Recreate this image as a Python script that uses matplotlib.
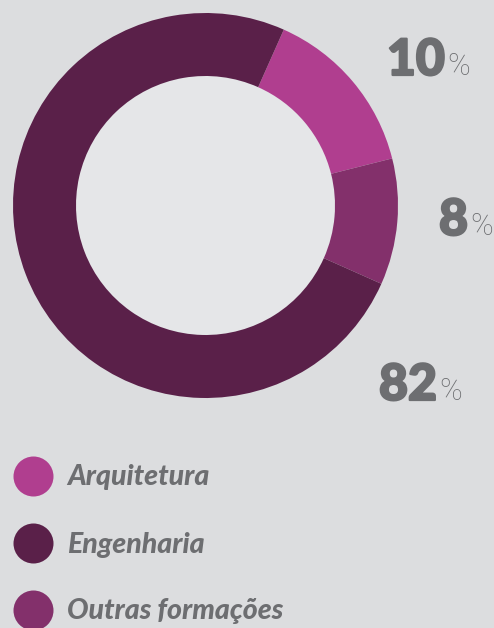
import matplotlib
matplotlib.use("Agg")
import matplotlib.pyplot as plt
import matplotlib.patheffects as pe

# data
categories = ["Arquitetura", "Outras formações", "Engenharia"]
pct_labels = [10, 8, 82]              # numbers printed beside the ring
wedge_share = [14.4, 10.6, 75.0]      # arc sizes as actually drawn
legend_order = ["Arquitetura", "Engenharia", "Outras formações"]

colors = {"Arquitetura": "#b03e8f", "Outras formações": "#83306b", "Engenharia": "#5a2049"}
bg = "#dcdddf"
hole = "#e5e6e8"
grey = "#6d6e71"

W, H = 494, 628
fig = plt.figure(figsize=(W / 100, H / 100), dpi=100, facecolor=bg)
ax = fig.add_axes([0, 0, 1, 1])
ax.set_facecolor(bg)

cx, cy, R, r_in = 205.5, H - 205.5, 192.5, 129.5
wedges, _ = ax.pie(wedge_share, colors=[colors[c] for c in categories],
                   startangle=66, counterclock=False, radius=R, center=(cx, cy),
                   wedgeprops=dict(width=R - r_in, linewidth=0))
ax.add_patch(plt.Circle((cx, cy), r_in, color=hole, zorder=0))

ax.set_xlim(0, W)
ax.set_ylim(0, H)
ax.set_aspect("equal")
ax.axis("off")

# percentage labels: number right-aligned, % sign left-aligned at the anchor
label_anchor = [(445, H - 75), (468, H - 235), (437, H - 400)]
heavy = [pe.withStroke(linewidth=1.6, foreground=grey)]
for val, (x, y) in zip(pct_labels, label_anchor):
    ax.text(x, y, str(val), ha="right", va="baseline", fontsize=36,
            family="Lato", fontweight="black", color=grey, path_effects=heavy)
    ax.text(x + 2, y, "%", ha="left", va="baseline", fontsize=22,
            family="Roboto", fontweight="light", color=grey)

# legend
lx, ly0, step = 32.7, H - 475.5, 67
for i, name in enumerate(legend_order):
    y = ly0 - i * step
    ax.scatter([lx], [y], s=(40 * 0.72) ** 2, color=colors[name], linewidths=0)
    ax.text(67, y - 10, name, ha="left", va="baseline", fontsize=20.5,
            family="Lato", fontweight="black", fontstyle="italic", color=grey)

fig.savefig("out.png", dpi=100, facecolor=bg)
